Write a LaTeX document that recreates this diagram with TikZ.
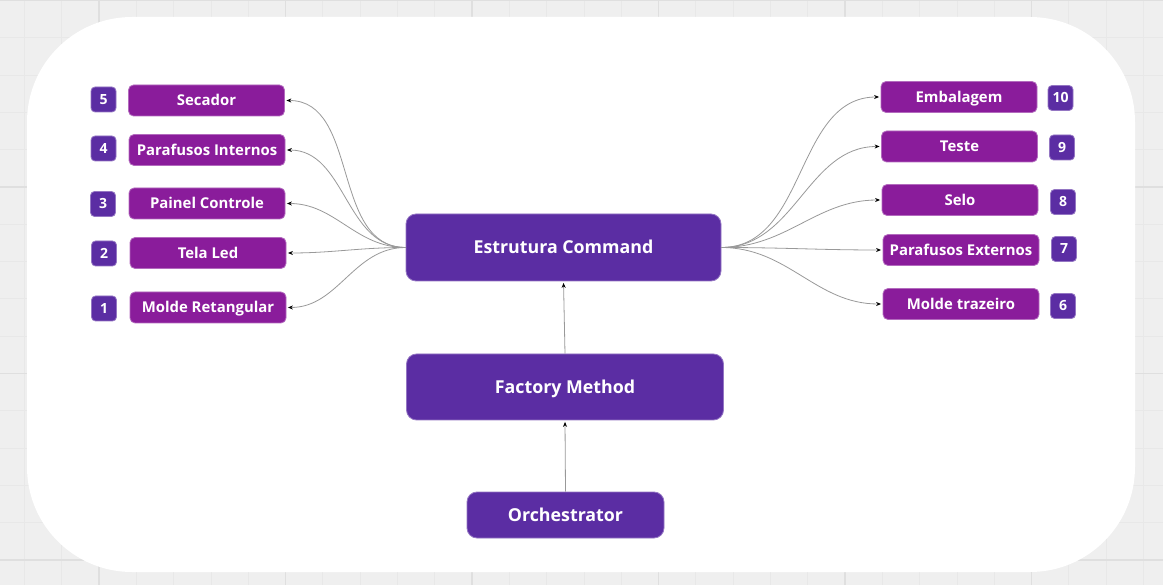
\documentclass[tikz,border=0pt]{standalone}
\usepackage{fontspec}
\setmainfont{Open Sans}
\usetikzlibrary{arrows.meta}
\definecolor{bg}{HTML}{EFEFEF}
\definecolor{gridminor}{HTML}{E8E8E8}
\definecolor{gridmajor}{HTML}{DFDFDF}
\definecolor{mag}{HTML}{8A1C9B}
\definecolor{dpur}{HTML}{5B2DA3}
\definecolor{connc}{HTML}{999999}
\tikzset{
  stepbox/.style={fill=mag, draw=mag!65!white, line width=0.8pt, rounded corners=5pt,
    minimum width=156pt, minimum height=31pt, inner sep=0pt, text=white,
    text height=10.6pt, text depth=0pt, font=\fontsize{14.9}{18}\selectfont\bfseries},
  numbox/.style={fill=dpur, draw=dpur!65!white, line width=0.8pt, rounded corners=4pt,
    minimum width=25pt, minimum height=25pt, inner sep=0pt, text=white,
    text height=10pt, text depth=0pt, font=\fontsize{14}{16}\selectfont\bfseries},
  mainbox/.style={fill=dpur, draw=dpur!65!white, line width=0.8pt, rounded corners=10pt,
    inner sep=0pt, text=white, text height=12.7pt, text depth=0pt,
    font=\fontsize{17.8}{21}\selectfont\bfseries},
  conn/.style={draw=connc, line width=0.8pt, -{Stealth[length=5pt,width=4pt,black]}, shorten >=1.5pt},
}
\begin{document}
\begin{tikzpicture}[x=1pt,y=-1pt]
\useasboundingbox (0,0) rectangle (1163,585);
% background and grid
\fill[bg] (0,0) rectangle (1163,585);
\foreach \i in {0,...,31} \draw[gridminor, line width=0.8pt] (24.4+37.3*\i,0) -- (24.4+37.3*\i,585);
\foreach \i in {0,...,15} \draw[gridminor, line width=0.8pt] (0,0.5+37.3*\i) -- (1163,0.5+37.3*\i);
\foreach \i in {0,...,5} \draw[gridmajor, line width=1.2pt] (99+186.5*\i,0) -- (99+186.5*\i,585);
\foreach \i in {0,...,3} \draw[gridmajor, line width=1.2pt] (0,0.5+186.5*\i) -- (1163,0.5+186.5*\i);
\fill[white, rounded corners=105pt] (27,17) rectangle (1135,572);

% central nodes
\node[mainbox, minimum width=315pt, minimum height=67pt] (ec) at (563.5,247.5) {Estrutura Command};
\node[mainbox, minimum width=317pt, minimum height=66pt] (fm) at (565,387) {Factory Method};
\node[mainbox, minimum width=197pt, minimum height=46pt] (orch) at (565.5,515) {Orchestrator};

% left boxes
\node[stepbox] (secador) at (206.5,100.5) {Secador};
\node[stepbox] (pint) at (207,150) {Parafusos Internos};
\node[stepbox] (painel) at (207,203.5) {Painel Controle};
\node[stepbox] (tela) at (208,253) {Tela Led};
\node[stepbox] (molder) at (208,307.5) {Molde Retangular};

\node[numbox] (n5) at (103.5,99.5) {5};
\node[numbox] (n4) at (103.5,148.5) {4};
\node[numbox] (n3) at (103,204) {3};
\node[numbox] (n2) at (104,253.5) {2};
\node[numbox] (n1) at (104,308.5) {1};

% right boxes
\node[stepbox] (emb) at (959,97) {Embalagem};
\node[stepbox] (teste) at (959.5,146.5) {Teste};
\node[stepbox] (selo) at (960,200) {Selo};
\node[stepbox] (pext) at (961,250) {Parafusos Externos};
\node[stepbox] (moldet) at (961,304) {Molde trazeiro};

\node[numbox] (n10) at (1060.5,98) {10};
\node[numbox] (n9) at (1062,147.5) {9};
\node[numbox] (n8) at (1063,202) {8};
\node[numbox] (n7) at (1064,249) {7};
\node[numbox] (n6) at (1063,306) {6};

% connectors
\foreach \t in {secador,pint,painel,tela,molder}
  \draw[conn] (ec.west) to[out=180,in=0] (\t.east);
\foreach \t in {emb,teste,selo,pext,moldet}
  \draw[conn] (ec.east) to[out=0,in=180] (\t.west);
\draw[conn] (fm.north) -- (ec.south);
\draw[conn] (orch.north) -- (fm.south);
\end{tikzpicture}
\end{document}
